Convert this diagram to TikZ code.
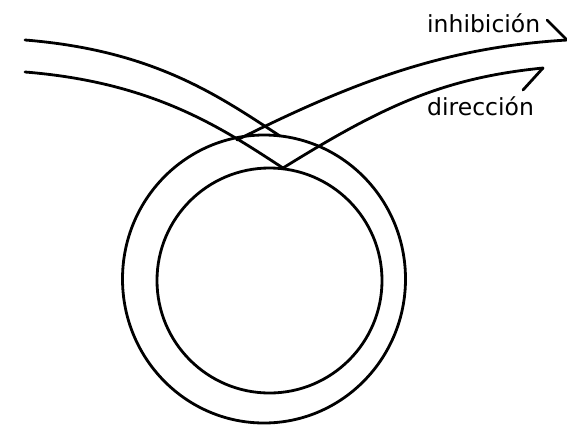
\documentclass[tikz,border=0pt]{standalone}
\usepackage{fontspec}
\setmainfont{DejaVu Sans}
\begin{document}
\begin{tikzpicture}[x=1pt,y=-1pt,
  ln/.style={line width=2.8pt,line cap=round,line join=round},
  lbl/.style={font=\fontsize{23.5}{28}\selectfont,inner sep=0pt,anchor=base west}]
\useasboundingbox (0,0) rectangle (567,426);
% circles
\draw[ln] (264,279) ellipse [x radius=141.5, y radius=144];
\draw[ln] (269.5,280.5) circle [radius=112.5];
% named points
\coordinate (v) at (283,168);
\coordinate (a0) at (25,40);
\coordinate (a1) at (280,136);
\coordinate (b0) at (25,72);
\coordinate (d0) at (237,140);
\coordinate (cend) at (543,68);
\coordinate (cbarb) at (523,90);
\coordinate (dend) at (567,40);
\coordinate (dbarb) at (547,20);
% incoming band
\draw[ln] (a0) .. controls (155,50.4) and (220,97) .. (a1);
\draw[ln] (b0) .. controls (155,82.4) and (223,129) .. (v);
% outgoing band
\draw[ln] (v) .. controls (383,106) and (443,78) .. (cend);
\draw[ln] (cend) -- (cbarb);
\draw[ln] (d0) .. controls (357,80) and (447,47.2) .. (dend);
\draw[ln] (dbarb) -- (dend);
% labels
\node[lbl] (inh) at (427,32) {inhibición};
\node[lbl] (dir) at (427,115) {dirección};
\end{tikzpicture}
\end{document}
